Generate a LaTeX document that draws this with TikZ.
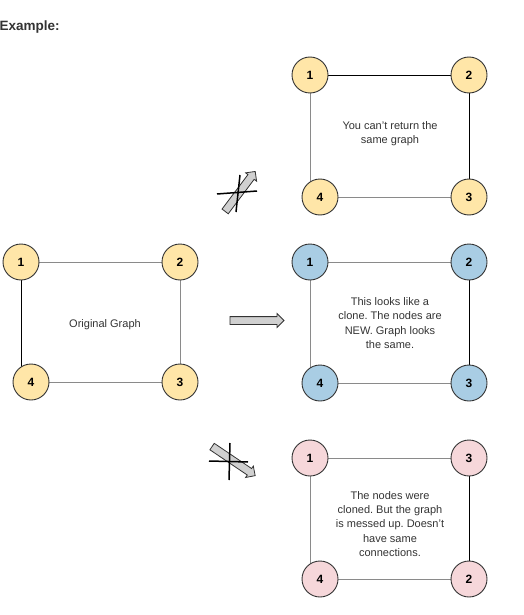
\documentclass[tikz,border=0pt]{standalone}
\usepackage{fontspec}
\setmainfont{Liberation Sans}
\usetikzlibrary{shapes.arrows}
\frenchspacing
\definecolor{txtgray}{HTML}{333333}
\definecolor{linegray}{HTML}{8A8A8A}
\definecolor{nyellow}{HTML}{FFE6A8}
\definecolor{nblue}{HTML}{A9CDE4}
\definecolor{npink}{HTML}{F6D7DA}
\definecolor{arrgray}{HTML}{D0D0D0}
\pgfdeclarelayer{background}
\pgfsetlayers{background,main}
\tikzset{
	vertex/.style={circle,draw=txtgray,line width=0.9pt,minimum size=36pt,inner sep=0pt,
		font=\fontsize{12}{12}\selectfont\bfseries,text=black},
	yel/.style={vertex,fill=nyellow},
	blu/.style={vertex,fill=nblue},
	pnk/.style={vertex,fill=npink},
	edge/.style={draw=linegray,line width=1pt},
	edgek/.style={draw=black,line width=0.9pt},
	note/.style={align=center,text=txtgray,font=\fontsize{11}{14.2}\selectfont},
	blockarrow/.style={single arrow,draw=txtgray,fill=arrgray,line width=0.8pt,
		inner sep=3.5pt,single arrow head extend=3pt,single arrow head indent=0pt,
		minimum height=54pt,text=black},
	crossline/.style={draw=black,line width=1.5pt}
}
\begin{document}
\begin{tikzpicture}[x=1pt,y=-1pt]
\useasboundingbox (0,0) rectangle (523,615);

\node[anchor=west,text=txtgray,font=\fontsize{13.5}{13.5}\selectfont\bfseries] (title) at (-4,27) {Example:};

% original graph
\node[yel] (o1) at (21,262) {1};
\node[yel] (o2) at (180,262) {2};
\node[yel] (o3) at (180,382) {3};
\node[yel] (o4) at (31,382) {4};
\node[note] (otext) at (105,325) {Original Graph};

% same graph
\node[yel] (s1) at (310,75) {1};
\node[yel] (s2) at (469,75) {2};
\node[yel] (s3) at (469,197) {3};
\node[yel] (s4) at (320,197) {4};
\node[note] (stext) at (390,134) {You can't return the\\same graph};

% clone
\node[blu] (c1) at (310,262) {1};
\node[blu] (c2) at (469,262) {2};
\node[blu] (c3) at (469,383) {3};
\node[blu] (c4) at (320,383) {4};
\node[note] (ctext) at (390,323) {This looks like a\\clone. The nodes are\\NEW. Graph looks\\the same.};

% messed up
\node[pnk] (m1) at (310,458) {1};
\node[pnk] (m3) at (469,458) {3};
\node[pnk] (m2) at (469,579) {2};
\node[pnk] (m4) at (320,579) {4};
\node[note] (mtext) at (390,524) {The nodes were\\cloned. But the graph\\is messed up. Doesn't\\have same\\connections.};

\begin{pgfonlayer}{background}
\draw[edge] (o1) -- (o2);
\draw[edge] (o2) -- (o3);
\draw[edgek] (o1.center) -- (o1 |- o4.center);
\draw[edge] (o4) -- (o3);

\draw[edgek] (s1) -- (s2);
\draw[edgek] (s2) -- (s3);
\draw[edge] (s1.center) -- (s1 |- s4.center);
\draw[edge] (s4) -- (s3);

\draw[edge] (c1) -- (c2);
\draw[edgek] (c2) -- (c3);
\draw[edge] (c1.center) -- (c1 |- c4.center);
\draw[edge] (c4) -- (c3);

\draw[edge] (m1) -- (m3);
\draw[edgek] (m3) -- (m2);
\draw[edge] (m1.center) -- (m1 |- m4.center);
\draw[edge] (m4) -- (m2);
\end{pgfonlayer}

% arrows
\node[blockarrow] (ok) at (255,320.5) {};
\node[blockarrow,minimum height=50pt,rotate=53] (nosame) at (239,193) {};
\node[blockarrow,minimum height=52pt,rotate=-34] (nomess) at (232,460) {};

\coordinate (xa1) at (217,194);
\coordinate (xa2) at (257,191);
\coordinate (xa3) at (240,175);
\coordinate (xa4) at (236,212);
\draw[crossline] (xa1) -- (xa2);
\draw[crossline] (xa3) -- (xa4);

\coordinate (xb1) at (209,461);
\coordinate (xb2) at (248,462);
\coordinate (xb3) at (230,443);
\coordinate (xb4) at (229,480);
\draw[crossline] (xb1) -- (xb2);
\draw[crossline] (xb3) -- (xb4);
\end{tikzpicture}
\end{document}
